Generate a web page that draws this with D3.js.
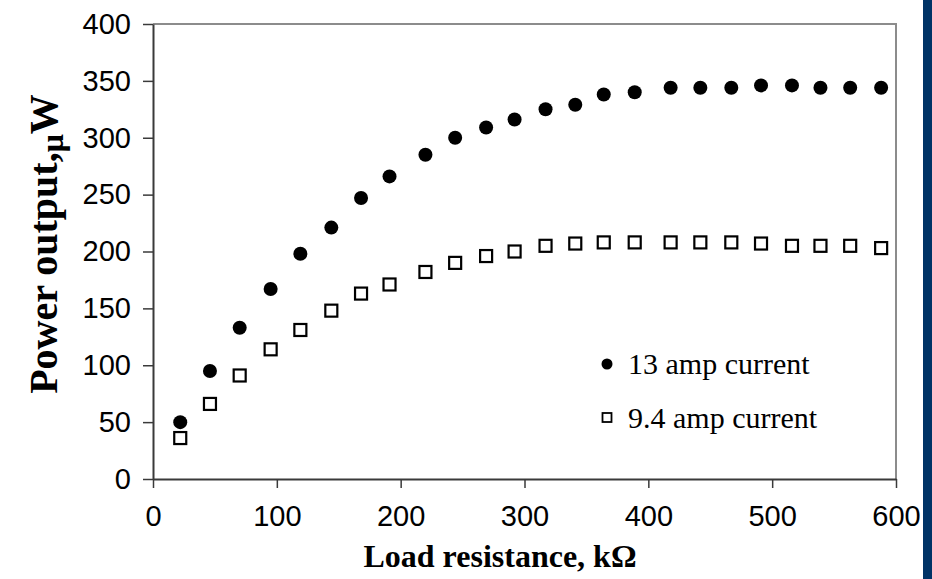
<!DOCTYPE html>
<html>
<head>
<meta charset="utf-8">
<script src="https://cdn.jsdelivr.net/npm/d3@7"></script>
<style>
  body { margin: 0; background: #fff; }
  .tick text { font-family: "Liberation Sans", Arial, sans-serif; font-size: 29px; fill: #000; }
</style>
</head>
<body>
<div class="d3-chart"></div>
<script>
const loadRes = [22, 46, 70, 95, 119, 144, 168, 191, 220, 244, 269, 292, 317, 341, 364, 389, 418, 442, 467, 491, 516, 539, 563, 588];
const power13 = [50, 95, 133, 167, 198, 221, 247, 266, 285, 300, 309, 316, 325, 329, 338, 340, 344, 344, 344, 346, 346, 344, 344, 344];
const power94 = [36, 66, 91, 114, 131, 148, 163, 171, 182, 190, 196, 200, 205, 207, 208, 208, 208, 208, 208, 207, 205, 205, 205, 203];
const xTicks = [0, 100, 200, 300, 400, 500, 600];
const yTicks = [0, 50, 100, 150, 200, 250, 300, 350, 400];
const seriesNames = ["13 amp current", "9.4 amp current"];

const W = 932, H = 579;
const margin = {top: 24, left: 153, right: 36, bottom: 100};
const width = 896 - margin.left;
const height = 479 - margin.top;

const root = d3.select(".d3-chart")
  .append("svg")
  .attr("width", W)
  .attr("height", H);

// navy strip on the right edge
root.append("rect")
  .attr("x", 923).attr("y", 0)
  .attr("width", W - 923).attr("height", H)
  .attr("fill", "#003366");

const svg = root.append("g")
  .attr("transform", `translate(${margin.left}, ${margin.top})`);

const x = d3.scaleLinear().domain([0, 600]).range([0, width]);
const y = d3.scaleLinear().domain([0, 400]).range([height, 0]);

// top and right frame
svg.append("path")
  .attr("d", `M0,0H${width}V${height}`)
  .attr("fill", "none")
  .attr("stroke", "#8c8c8c")
  .attr("stroke-width", 2);

const xAxis = svg.append("g")
  .attr("transform", `translate(0,${height})`)
  .call(d3.axisBottom(x).tickValues(xTicks).tickSize(9).tickPadding(17).tickSizeOuter(0));

const yAxis = svg.append("g")
  .call(d3.axisLeft(y).tickValues(yTicks).tickSize(10).tickPadding(12).tickSizeOuter(0));

[xAxis, yAxis].forEach(g => {
  g.select(".domain").attr("stroke", "#3a3a3a").attr("stroke-width", 2);
  g.selectAll(".tick line").attr("stroke", "#3a3a3a").attr("stroke-width", 1.5);
});

// 13 amp - filled circles
svg.append("g")
  .selectAll("circle")
  .data(loadRes.map((r, i) => [r, power13[i]]))
  .join("circle")
  .attr("cx", d => x(d[0]))
  .attr("cy", d => y(d[1]))
  .attr("r", 7)
  .attr("fill", "#000");

// 9.4 amp - open squares
svg.append("g")
  .selectAll("rect")
  .data(loadRes.map((r, i) => [r, power94[i]]))
  .join("rect")
  .attr("x", d => x(d[0]) - 6)
  .attr("y", d => y(d[1]) - 6)
  .attr("width", 12)
  .attr("height", 12)
  .attr("fill", "#fff")
  .attr("stroke", "#000")
  .attr("stroke-width", 2.2);

// legend
const legend = svg.append("g").attr("transform", "translate(454, 340)");
legend.append("circle").attr("cx", 0).attr("cy", 0).attr("r", 5.5).attr("fill", "#000");
legend.append("rect").attr("x", -4.5).attr("y", 49).attr("width", 9).attr("height", 9)
  .attr("fill", "#fff").attr("stroke", "#000").attr("stroke-width", 1.8);
legend.selectAll("text")
  .data(seriesNames)
  .join("text")
  .attr("x", 21)
  .attr("y", (d, i) => 10 + i * 54)
  .attr("font-family", "'Liberation Serif', 'Times New Roman', serif")
  .attr("font-size", 30)
  .text(d => d);

// axis titles
root.append("text")
  .attr("x", 500).attr("y", 567)
  .attr("text-anchor", "middle")
  .attr("font-family", "'Liberation Serif', 'Times New Roman', serif")
  .attr("font-weight", "bold")
  .attr("font-size", 32)
  .text("Load resistance, k\u03A9");

const yTitle = root.append("text")
  .attr("transform", "translate(57, 244) rotate(-90)")
  .attr("text-anchor", "middle")
  .attr("font-family", "'Liberation Serif', 'Times New Roman', serif")
  .attr("font-weight", "bold")
  .attr("font-size", 40);
yTitle.append("tspan").text("Power output,");
yTitle.append("tspan").attr("dy", 6).attr("font-size", 32).text("\u03BC");
yTitle.append("tspan").attr("dy", -6).text("W");
</script>
</body>
</html>
